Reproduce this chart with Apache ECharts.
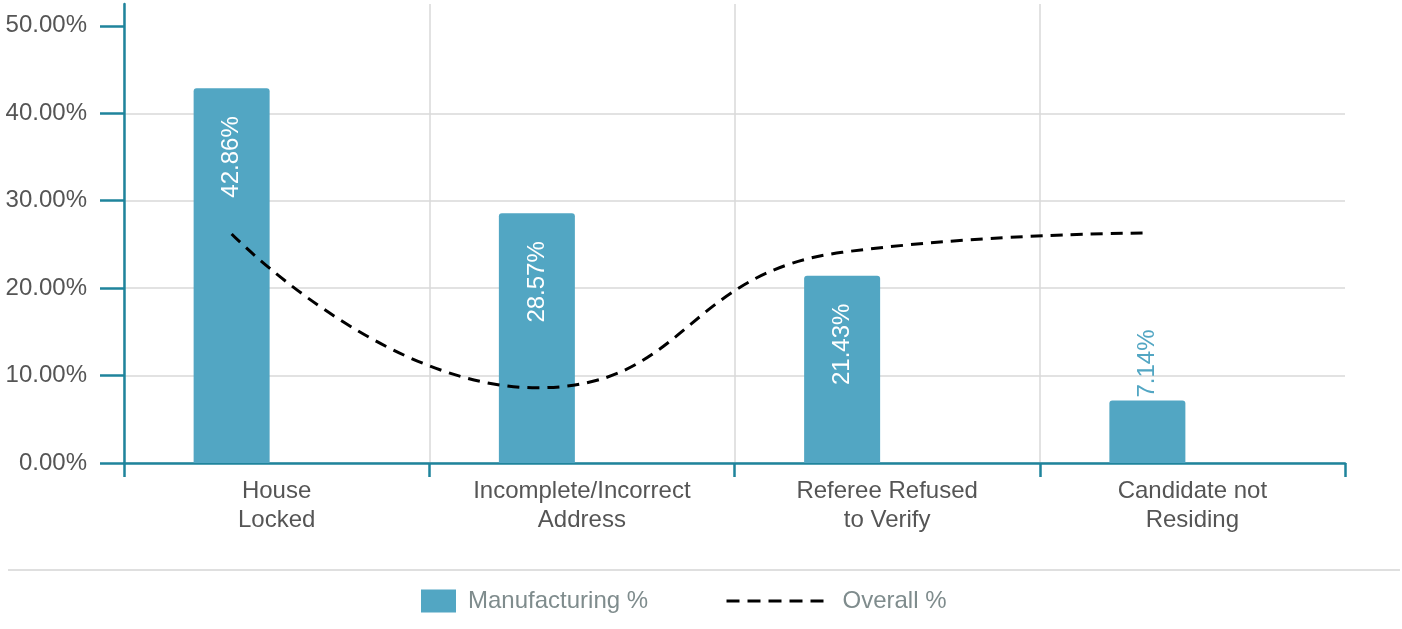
<!DOCTYPE html>
<html>
<head>
<meta charset="utf-8">
<script src="https://cdn.jsdelivr.net/npm/echarts@6/dist/echarts.min.js"></script>
<style>
  html, body { margin: 0; padding: 0; background: #fff; }
  #chart_show { width: 1402px; height: 629px; }
</style>
</head>
<body>
<div id="chart_show"></div>
<script>
// 数据
var categories = ['House\nLocked', 'Incomplete/Incorrect\nAddress', 'Referee Refused\nto Verify', 'Candidate not\nResiding'];
var manufacturing = [42.86, 28.57, 21.43, 7.14];
var overall = [26.2, 8.6, 24.1, 26.3];
var yTicks = [0, 10, 20, 30, 40, 50];

var axisColor = '#1f849c';
var barColor = '#52a6c3';
var font = '"Liberation Sans", Arial, sans-serif';

var oChart = echarts.init(document.getElementById('chart_show'));

// 最后一根柱子的标签放在柱子上方
var barData = manufacturing.map(function (v, i) {
  if (i === manufacturing.length - 1) {
    return {
      value: v,
      label: {
        position: 'top',
        color: barColor,
        align: 'left',
        distance: 3
      }
    };
  }
  return v;
});

var option = {
  animation: false,
  textStyle: { fontFamily: font },
  legend: [
    {
      data: [{ name: 'Manufacturing %', icon: 'rect' }],
      left: 421,
      top: 589,
      padding: 0,
      itemWidth: 35,
      itemHeight: 23,
      textStyle: { fontSize: 24, color: '#7f8c8d', fontFamily: font, padding: [0, 0, 0, 7] }
    },
    {
      data: ['Overall %'],
      left: 725,
      top: 589,
      padding: 0,
      itemWidth: 100,
      itemHeight: 23,
      itemStyle: { opacity: 0 },
      lineStyle: { color: '#000', width: 3, type: [13, 8] },
      textStyle: { fontSize: 24, color: '#7f8c8d', fontFamily: font, padding: [0, 0, 0, 11] }
    }
  ],
  graphic: [
    {
      type: 'line',
      shape: { x1: 8, y1: 570, x2: 1400, y2: 570 },
      style: { stroke: '#d4d4d4', lineWidth: 1.5 }
    }
  ],
  grid: [
    { left: 124, right: 57, top: 4, bottom: 166 },
    { left: 79, right: 102, top: 4, bottom: 166 }
  ],
  xAxis: [
    {
      type: 'category',
      gridIndex: 0,
      data: categories,
      axisLine: { lineStyle: { color: axisColor, width: 2.5 } },
      axisTick: { show: true, length: 14, lineStyle: { color: axisColor, width: 2.5 } },
      splitLine: { show: true, showMaxLine: false, lineStyle: { color: '#d9d9d9', width: 1.5 } },
      axisLabel: { fontSize: 24, color: '#555', lineHeight: 29, margin: 14, fontFamily: font }
    },
    {
      type: 'category',
      gridIndex: 1,
      data: categories,
      show: false
    }
  ],
  yAxis: [
    {
      type: 'value',
      gridIndex: 0,
      min: 0,
      max: 52.5,
      axisLine: { show: true, lineStyle: { color: axisColor, width: 2.5 } },
      axisTick: { show: true, length: 24, customValues: yTicks, lineStyle: { color: axisColor, width: 2.5 } },
      axisLabel: {
        customValues: yTicks,
        fontSize: 24,
        color: '#555',
        margin: 37,
        fontFamily: font,
        formatter: function (v) { return v.toFixed(2) + '%'; }
      },
      splitLine: { show: true, showMaxLine: false, lineStyle: { color: '#d9d9d9', width: 1.5 } }
    },
    {
      type: 'value',
      gridIndex: 1,
      min: 0,
      max: 52.5,
      show: false,
      splitLine: { show: false }
    }
  ],
  series: [
    {
      name: 'Manufacturing %',
      type: 'bar',
      xAxisIndex: 1,
      yAxisIndex: 1,
      barWidth: 76,
      data: barData,
      itemStyle: { color: barColor, borderRadius: [3, 3, 0, 0] },
      label: {
        show: true,
        position: 'insideTop',
        rotate: 90,
        align: 'right',
        verticalAlign: 'middle',
        distance: 28,
        fontSize: 24,
        color: '#fff',
        fontFamily: font,
        formatter: function (p) { return p.value.toFixed(2) + '%'; }
      }
    },
    {
      name: 'Overall %',
      type: 'line',
      xAxisIndex: 1,
      yAxisIndex: 1,
      smooth: true,
      symbol: 'none',
      showSymbol: false,
      data: overall,
      itemStyle: { color: '#000' },
      lineStyle: { color: '#000', width: 3, type: [12, 8] },
      z: 3
    }
  ]
};
oChart.setOption(option);
</script>
</body>
</html>
